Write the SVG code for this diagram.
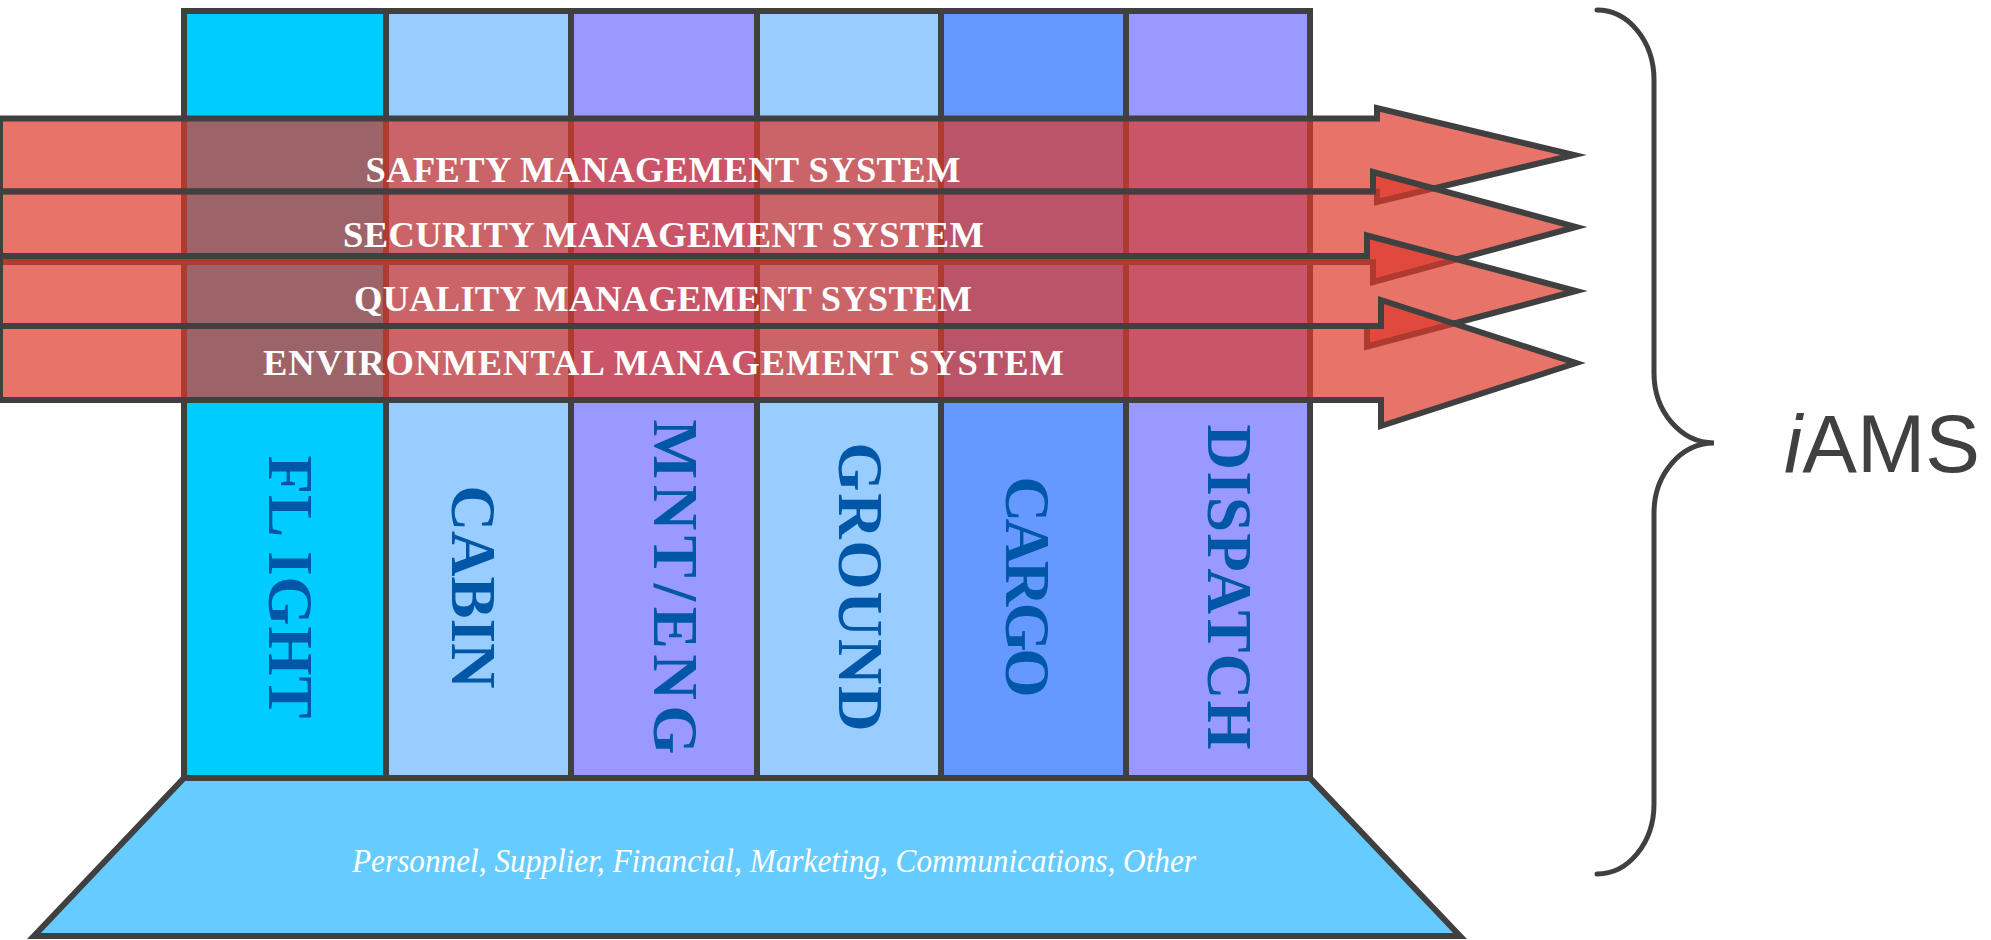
<svg xmlns="http://www.w3.org/2000/svg" width="1991" height="940" viewBox="0 0 1991 940">
<style>
.col{stroke:#404040;stroke-width:6}
.vt{font-family:"Liberation Serif",serif;font-weight:bold;font-size:63px;fill:#0057A8;text-anchor:middle}
.arr{fill:#DE382A;fill-opacity:0.7;stroke:#404040;stroke-width:6;stroke-linejoin:miter;stroke-miterlimit:8}
.ht{font-family:"Liberation Serif",serif;font-weight:bold;font-size:36.5px;fill:#FFFFFF;text-anchor:middle}
.base{fill:#66CCFF;stroke:#404040;stroke-width:6;stroke-linejoin:miter}
.bt{font-family:"Liberation Serif",serif;font-style:italic;font-size:34px;fill:#FFFFFF;text-anchor:middle}
.brace{fill:none;stroke:#404040;stroke-width:5;stroke-linecap:round}
</style>
<rect width="1991" height="940" fill="#FFFFFF"/>
<g id="base">
<polygon class="base" points="184,778 1310,778 1460,936 34,936"/>
<text class="bt" x="774" y="872" textLength="844" lengthAdjust="spacingAndGlyphs">Personnel, Supplier, Financial, Marketing, Communications, Other</text>
</g>
<g id="col-flight">
<rect class="col" x="184" y="11" width="202" height="767" fill="#00CCFF"/>
<text class="vt" transform="translate(269,587) rotate(90)" textLength="263">FL IGHT</text>
</g>
<g id="col-cabin">
<rect class="col" x="386" y="11" width="185" height="767" fill="#99CCFF"/>
<text class="vt" transform="translate(452,587) rotate(90)" textLength="203">CABIN</text>
</g>
<g id="col-mnt">
<rect class="col" x="571" y="11" width="186" height="767" fill="#9999FF"/>
<text class="vt" transform="translate(654,587) rotate(90)" textLength="335">MNT/ENG</text>
</g>
<g id="col-ground">
<rect class="col" x="757" y="11" width="184" height="767" fill="#99CCFF"/>
<text class="vt" transform="translate(839,587) rotate(90)" textLength="289">GROUND</text>
</g>
<g id="col-cargo">
<rect class="col" x="941" y="11" width="185" height="767" fill="#6699FF"/>
<text class="vt" transform="translate(1006,587) rotate(90)" textLength="221">CARGO</text>
</g>
<g id="col-dispatch">
<rect class="col" x="1126" y="11" width="184" height="767" fill="#9999FF"/>
<text class="vt" transform="translate(1208,587) rotate(90)" textLength="325">DISPATCH</text>
</g>
<g id="arrow-safety">
<path class="arr" d="M0,118.5 H1377 V108 L1574,155 L1377,202 V191.5 H0 Z"/>
<text class="ht" x="663" y="181.5" textLength="595">SAFETY MANAGEMENT SYSTEM</text>
</g>
<g id="arrow-security">
<path class="arr" d="M0,191.5 H1373 V172 L1576,227 L1373,282 V262 H0 Z"/>
<text class="ht" x="663.5" y="246.5" textLength="641">SECURITY MANAGEMENT SYSTEM</text>
</g>
<g id="arrow-quality">
<path class="arr" d="M0,256 H1367 V235.5 L1576,291 L1367,346.5 V326 H0 Z"/>
<text class="ht" x="663" y="310.5" textLength="618">QUALITY MANAGEMENT SYSTEM</text>
</g>
<g id="arrow-environmental">
<path class="arr" d="M0,326 H1381 V300 L1576,363 L1381,426 V400 H0 Z"/>
<text class="ht" x="663.5" y="375" textLength="801">ENVIRONMENTAL MANAGEMENT SYSTEM</text>
</g>
<g id="connectors">
<path class="brace" d="M1597,10 A57,70 0 0 1 1654,80 L1654,373 A60,70 0 0 0 1714,443 A60,70 0 0 0 1654,513 L1654,804 A57,70 0 0 1 1597,874"/>
</g>
<g id="label-iams">
<text x="1784" y="472" font-family="'Liberation Sans',Arial,sans-serif" font-size="82" fill="#404040"><tspan font-style="italic">i</tspan>AMS</text>
</g>
</svg>
